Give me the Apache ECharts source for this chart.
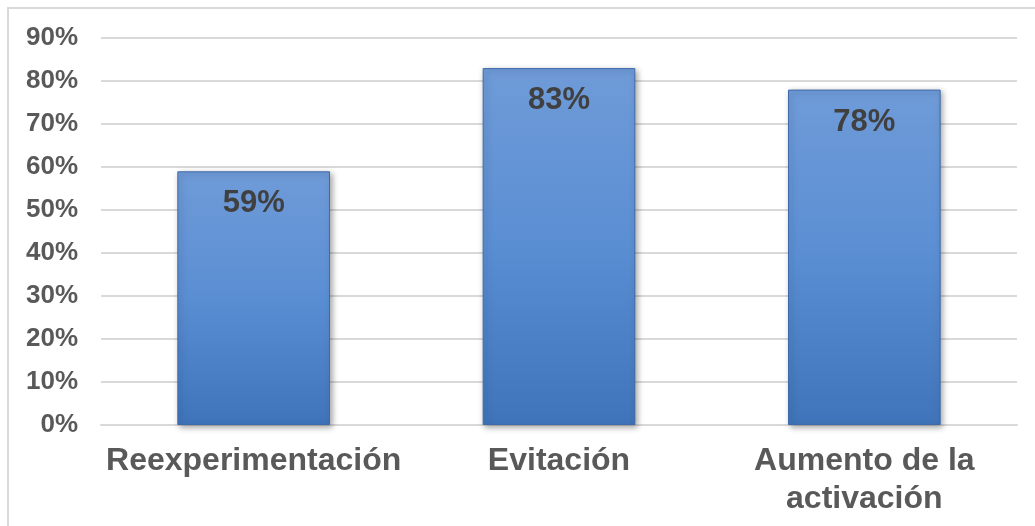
<!DOCTYPE html>
<html>
<head>
<meta charset="utf-8">
<script src="https://cdn.jsdelivr.net/npm/echarts@6/dist/echarts.min.js"></script>
<style>
html,body{margin:0;padding:0;background:#fff;}
#chart{width:1035px;height:526px;}
</style>
</head>
<body>
<div id="chart"></div>
<script>
const categories = ['Reexperimentación', 'Evitación', 'Aumento de la\nactivación'];
const values = [59, 83, 78];
const yTicks = [0, 10, 20, 30, 40, 50, 60, 70, 80, 90];

const chart = echarts.init(document.getElementById('chart'), null, {renderer: 'canvas'});
const font = '"Liberation Sans", Arial, sans-serif';

chart.setOption({
  animation: false,
  backgroundColor: '#ffffff',
  graphic: [{
    type: 'rect',
    shape: {x: 8, y: 8, width: 1040, height: 530},
    style: {fill: 'none', stroke: '#d9d9d9', lineWidth: 2},
    silent: true
  }],
  grid: {left: 101, right: 18, top: 38, bottom: 101, containLabel: false},
  xAxis: {
    type: 'category',
    data: categories,
    axisLine: {show: true, lineStyle: {color: '#d9d9d9', width: 2}},
    axisTick: {show: false},
    axisLabel: {
      color: '#595959', fontFamily: font, fontWeight: 'bold', fontSize: 32,
      margin: 17, lineHeight: 38, interval: 0
    }
  },
  yAxis: {
    type: 'value',
    min: yTicks[0], max: yTicks[yTicks.length - 1], interval: 10,
    axisLine: {show: false},
    axisTick: {show: false},
    splitLine: {lineStyle: {color: '#d9d9d9', width: 2}},
    axisLabel: {
      color: '#595959', fontFamily: font, fontWeight: 'bold', fontSize: 26,
      margin: 23, formatter: v => v + '%'
    }
  },
  series: [{
    type: 'bar',
    data: values,
    barWidth: '50%',
    itemStyle: {
      color: new echarts.graphic.LinearGradient(0, 0, 0, 1, [
        {offset: 0, color: '#6f9bd8'},
        {offset: 0.5, color: '#5a8ed3'},
        {offset: 1, color: '#3f74ba'}
      ]),
      borderColor: '#3d6aa8',
      borderWidth: 1,
      shadowColor: 'rgba(0,0,0,0.35)',
      shadowBlur: 6,
      shadowOffsetX: 2,
      shadowOffsetY: 2
    },
    label: {
      show: true,
      position: 'insideTop',
      distance: 17,
      color: '#404040',
      fontFamily: font,
      fontWeight: 'bold',
      fontSize: 31,
      formatter: p => p.value + '%'
    }
  }]
});
</script>
</body>
</html>
